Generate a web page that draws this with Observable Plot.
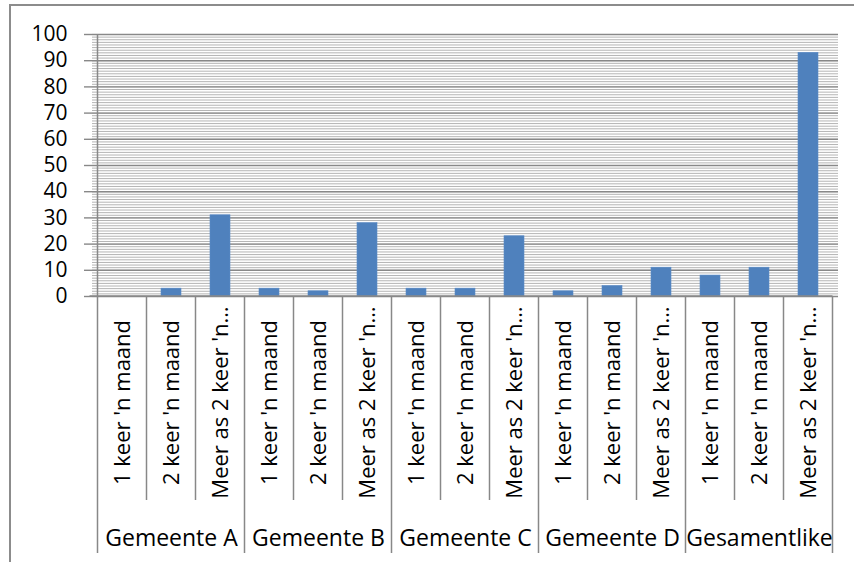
<!DOCTYPE html>
<html>
<head>
<meta charset="utf-8">
<script src="https://cdn.jsdelivr.net/npm/d3@7"></script>
<script src="https://cdn.jsdelivr.net/npm/@observablehq/plot@0.6"></script>
<style>
  html, body { margin: 0; padding: 0; background: #fff; overflow: hidden; }
  #wrap { position: relative; width: 854px; height: 562px; overflow: hidden; }
  #border { position: absolute; left: 9px; top: 4px; width: 900px; height: 600px; border: 2px solid #8c8c8c; box-sizing: border-box; pointer-events: none; }
  #chart { position: absolute; left: 0; top: 0; }
</style>
</head>
<body>
<div id="wrap"><div id="chart"></div><div id="border"></div></div>
<script>
const groups = ["Gemeente A", "Gemeente B", "Gemeente C", "Gemeente D", "Gesamentlike"];
const categories = ["1 keer 'n maand", "2 keer 'n maand", "Meer as 2 keer 'n…"];
const valuesA = [0, 3, 31];
const valuesB = [3, 2, 28];
const valuesC = [3, 3, 23];
const valuesD = [2, 4, 11];
const valuesTotal = [8, 11, 93];
const yTicks = [0, 10, 20, 30, 40, 50, 60, 70, 80, 90, 100];

const seriesByGroup = [valuesA, valuesB, valuesC, valuesD, valuesTotal];
const data = [];
groups.forEach((g, gi) => categories.forEach((c, ci) => {
  data.push({group: g, category: c, key: g + "|" + c, value: seriesByGroup[gi][ci], gi, ci});
}));
const keys = data.map(d => d.key);
const groupCenters = data.filter(d => d.ci === 1);

const FONT = "'Open Sans', sans-serif";
const GRID_MAJOR = "#888888";
const GRID_MINOR = "#b4b4b4";

function separators(index, scales) {
  const x = scales.x, y = scales.y;
  const bw = x.bandwidth();
  const step = x(keys[1]) - x(keys[0]);
  const g = d3.create("svg:g").attr("stroke", GRID_MAJOR).attr("stroke-width", 1.5);
  const y0 = y(0);
  const x0 = x(keys[0]) - (step - bw) / 2;
  g.append("line").attr("x1", x0).attr("x2", x0).attr("y1", y(100)).attr("y2", y0);
  keys.concat([null]).forEach((k, i) => {
    const bx = (k ? x(k) : x(keys[keys.length - 1]) + step) - (step - bw) / 2;
    const depth = i % categories.length === 0 ? 257 : 204;
    g.append("line").attr("x1", bx).attr("x2", bx).attr("y1", y0).attr("y2", y0 + depth);
  });
  g.append("line").attr("x1", x0 - 8).attr("x2", x0 + step * keys.length).attr("y1", y0).attr("y2", y0);
  return g.node();
}

const chart = Plot.plot({
  width: 854,
  height: 562,
  marginLeft: 92,
  marginRight: 16,
  marginTop: 34,
  marginBottom: 266,
  style: {fontFamily: FONT, background: "transparent", color: "#000"},
  x: {type: "band", domain: keys, paddingInner: 0.6, paddingOuter: 0.3, axis: null},
  y: {domain: [0, 100], axis: null},
  marks: [
    Plot.gridY(d3.range(0, 101, 1), {stroke: GRID_MINOR, strokeOpacity: 1, strokeWidth: 1}),
    Plot.gridY(yTicks, {stroke: GRID_MAJOR, strokeOpacity: 1, strokeWidth: 1.4}),
    Plot.axisY(yTicks, {tickSize: 8, tickPadding: 17, stroke: GRID_MAJOR, strokeWidth: 1.4, fontSize: 21, fill: "#000", label: null}),
    Plot.barY(data, {x: "key", y: "value", fill: "#4f81bd", stroke: "#5b8cc8", strokeWidth: 0.6}),
    separators,
    Plot.text(data, {x: "key", text: "category", frameAnchor: "bottom", dy: 106, rotate: -90, textAnchor: "middle", lineAnchor: "middle", fontSize: 22, fill: "#000"}),
    Plot.text(groupCenters, {x: "key", text: "group", frameAnchor: "bottom", dy: 242, textAnchor: "middle", lineAnchor: "middle", fontSize: 23, fill: "#000"})
  ]
});
document.getElementById("chart").appendChild(chart);
</script>
</body>
</html>
